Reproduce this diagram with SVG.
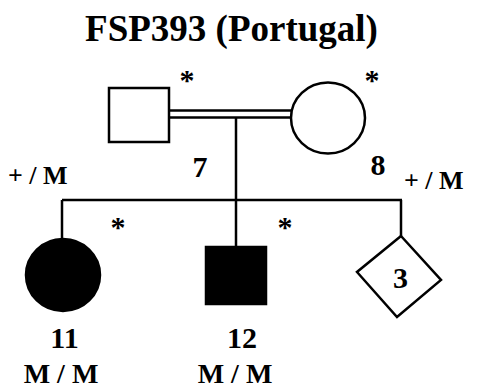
<svg xmlns="http://www.w3.org/2000/svg" width="480" height="390" viewBox="0 0 480 390">
<style>
text{font-family:"Liberation Serif","Times New Roman",serif;font-weight:bold;fill:#000}
.ln{stroke:#000;stroke-width:2.5;fill:none}
.sh{stroke:#000;stroke-width:2.5;fill:#fff}
.af{stroke:#000;stroke-width:2.5;fill:#000}
.ast{font-size:30px;text-anchor:middle}
.num{font-size:30px;text-anchor:middle}
.gt{font-size:26px}
.gtb{font-size:28px;text-anchor:middle}
</style>
<rect width="480" height="390" fill="#fff"/>
<text x="231.5" y="41" font-size="37" text-anchor="middle">FSP393 (Portugal)</text>
<g id="connectors">
<line class="ln" x1="169" y1="110.5" x2="291" y2="110.5" stroke-width="2"/>
<line class="ln" x1="169" y1="117.5" x2="291" y2="117.5" stroke-width="2"/>
<line class="ln" x1="236" y1="117.5" x2="236" y2="247"/>
<line class="ln" x1="62" y1="200" x2="402" y2="200"/>
<line class="ln" x1="62" y1="200" x2="62" y2="239"/>
<line class="ln" x1="401" y1="200" x2="401" y2="236"/>
</g>
<g id="n7">
<rect class="sh" x="109" y="88" width="60" height="54"/>
<text class="ast" x="187" y="90">*</text>
<text class="num" x="200" y="177">7</text>
<text class="gt" x="8" y="184">+ / M</text>
</g>
<g id="n8">
<ellipse class="sh" cx="328" cy="118" rx="37" ry="35.5"/>
<text class="ast" x="372" y="90">*</text>
<text class="num" x="378" y="175">8</text>
<text class="gt" x="404" y="189">+ / M</text>
</g>
<g id="n11">
<ellipse class="af" cx="63" cy="275" rx="37" ry="36"/>
<text class="ast" x="118" y="237">*</text>
<text class="num" x="64.5" y="348">11</text>
<text class="gtb" x="61" y="383">M / M</text>
</g>
<g id="n12">
<rect class="af" x="206" y="247" width="60" height="57"/>
<text class="ast" x="285" y="237">*</text>
<text class="num" x="242" y="348">12</text>
<text class="gtb" x="235" y="383">M / M</text>
</g>
<g id="n3">
<polygon class="sh" points="401,236 441,280 397,317 357,272"/>
<text class="num" x="400.5" y="288">3</text>
</g>
</svg>
